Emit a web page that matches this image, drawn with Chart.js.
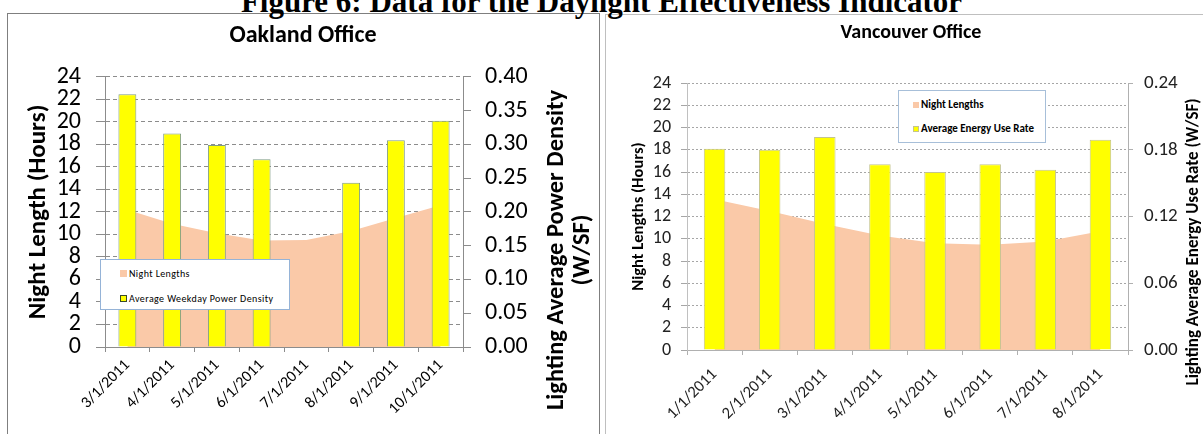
<!DOCTYPE html>
<html>
<head>
<meta charset="utf-8">
<script src="https://cdn.jsdelivr.net/npm/chart.js@4.4.1/dist/chart.umd.min.js"></script>
<style>
  html, body { margin: 0; padding: 0; background: #fff; }
  body { width: 1203px; height: 434px; position: relative; overflow: hidden; font-family: Carlito, Lato, sans-serif; }
  .fig-title { position: absolute; left: 0; top: -14px; width: 1203px; text-align: center; font: bold 31px/31px "Liberation Serif", "Times New Roman", serif; color: #000; white-space: nowrap; }
  .panel { position: absolute; }
  #oakPanel { left: 7px; top: 13px; width: 591px; height: 440px; border: 1px solid #7f7f7f; }
  #vanPanel { left: 605px; top: 14px; width: 620px; height: 440px; border: 1px solid #bfbfbf; }
  canvas { position: absolute; }
  #oakChart { left: 8px; top: 13px; }
  #vanChart { left: 607px; top: 15px; }
  .legend { position: absolute; background: #fff; box-sizing: border-box; }
  .legend .item { display: flex; align-items: center; white-space: nowrap; color: #000; }
  .legend .swatch { display: inline-block; box-sizing: border-box; margin-right: 2px; }
  #oakLegend { left: 100px; top: 259px; width: 190px; height: 51px; border: 1px solid #95b3d7; padding: 1px 0 0 19px; font-size: 10px; letter-spacing: 0.4px; }
  #oakLegend .item { height: 25px; }
  #oakLegend .swatch { width: 7px; height: 7px; }
  #vanLegend { left: 898px; top: 90px; width: 148px; height: 53px; border: 1px solid #a7bfd9; padding: 2px 0 0 14px; font-size: 11px; font-weight: bold; }
  #vanLegend .item { height: 23.7px; }
  #vanLegend .swatch { width: 6px; height: 6px; }
</style>
</head>
<body>
<div class="panel" id="oakPanel"></div>
<div class="panel" id="vanPanel"></div>
<div class="fig-title">Figure 6: Data for the Daylight Effectiveness Indicator</div>
<canvas id="oakChart" width="590" height="421"></canvas>
<canvas id="vanChart" width="608" height="419"></canvas>
<div class="legend" id="oakLegend"></div>
<div class="legend" id="vanLegend"></div>
<script>
// Oakland Office
const oaklandLabels = ['3/1/2011', '4/1/2011', '5/1/2011', '6/1/2011', '7/1/2011', '8/1/2011', '9/1/2011', '10/1/2011'];
const oaklandNightHours = [12.2, 10.95, 10.1, 9.45, 9.5, 10.3, 11.45, 12.6];
const oaklandPowerDensity = [0.374, 0.316, 0.299, 0.278, null, 0.243, 0.306, 0.335];

// Vancouver Office
const vancouverLabels = ['1/1/2011', '2/1/2011', '3/1/2011', '4/1/2011', '5/1/2011', '6/1/2011', '7/1/2011', '8/1/2011'];
const vancouverNightHours = [13.55, 12.5, 11.32, 10.29, 9.6, 9.45, 9.76, 10.68];
const vancouverEnergyRate = [0.181, 0.180, 0.1915, 0.167, 0.160, 0.167, 0.162, 0.189];

const nightFill = 'rgb(250, 201, 168)';
const barYellow = '#ffff00';

Chart.defaults.font.family = 'Carlito, Lato, sans-serif';

// right hand axis titles read bottom to top, which the built in title can't do
const sideTitle = {
  id: 'sideTitle',
  afterDraw(chart, args, opts) {
    const ctx = chart.ctx;
    ctx.save();
    ctx.font = 'bold ' + opts.size + 'px ' + Chart.defaults.font.family;
    ctx.fillStyle = opts.color || '#000';
    ctx.textAlign = 'center';
    ctx.textBaseline = 'middle';
    opts.lines.forEach((line, i) => {
      ctx.save();
      ctx.translate(opts.x[i], opts.y);
      ctx.rotate(-Math.PI / 2);
      ctx.fillText(line, 0, 0);
      ctx.restore();
    });
    ctx.restore();
  }
};

const buildLegend = (chart, el) => {
  chart.data.datasets.forEach(ds => {
    const item = document.createElement('div');
    item.className = 'item';
    const sw = document.createElement('span');
    sw.className = 'swatch';
    sw.style.background = ds.backgroundColor;
    if (ds.type === 'bar') sw.style.border = '1px solid ' + ds.legendBorder;
    item.appendChild(sw);
    item.appendChild(document.createTextNode(ds.label));
    el.appendChild(item);
  });
};

const oakChart = new Chart(document.getElementById('oakChart'), {
  type: 'bar',
  data: {
    labels: oaklandLabels,
    datasets: [
      {
        type: 'line', label: 'Night Lengths', data: oaklandNightHours, yAxisID: 'hours',
        fill: 'origin', backgroundColor: nightFill, borderColor: 'rgba(0,0,0,0)', borderWidth: 0,
        pointRadius: 0, tension: 0, order: 2
      },
      {
        type: 'bar', label: 'Average Weekday Power Density', data: oaklandPowerDensity, yAxisID: 'power',
        backgroundColor: barYellow, borderColor: '#7f9c86', borderWidth: 1, legendBorder: '#3a4a2a',
        barPercentage: 0.4, categoryPercentage: 1, order: 1
      }
    ]
  },
  options: {
    responsive: false,
    animation: false,
    layout: { padding: 0 },
    plugins: {
      legend: { display: false },
      tooltip: { enabled: false },
      title: {
        display: true, text: 'Oakland Office', color: '#000',
        font: { size: 24, weight: 'bold' }, padding: { top: 9, bottom: 26 }
      },
      sideTitle: { lines: ['Lighting Average Power Density', '(W/SF)'], x: [549, 575], y: 237, size: 24.5 }
    },
    scales: {
      x: {
        grid: { drawOnChartArea: false, tickLength: 5, color: '#8c8c8c' },
        border: { color: '#8c8c8c' },
        ticks: { autoSkip: false, minRotation: 45, maxRotation: 45, color: '#000', font: { size: 16 }, padding: 4 },
        afterFit: s => { s.height = 87; }
      },
      hours: {
        position: 'left', min: 0, max: 24,
        ticks: { stepSize: 2, autoSkip: false, color: '#000', font: { size: 24 }, padding: 15 },
        grid: { color: '#8c8c8c', tickLength: 9 },
        border: { color: '#8c8c8c', dash: [4, 3] },
        title: {
          display: true, text: 'Night Length (Hours)', color: '#000',
          font: { size: 25, weight: 'bold' }, padding: { top: 16, bottom: 0 }
        },
        afterFit: s => { s.width = 97; }
      },
      power: {
        position: 'right', min: 0, max: 0.4,
        ticks: { stepSize: 0.05, autoSkip: false, color: '#000', font: { size: 24 }, padding: 14, callback: v => v.toFixed(2) },
        grid: { drawOnChartArea: false, tickLength: 8, color: '#8c8c8c' },
        border: { color: '#8c8c8c' },
        afterFit: s => { s.width = 135; }
      }
    }
  },
  plugins: [sideTitle]
});

const vanChart = new Chart(document.getElementById('vanChart'), {
  type: 'bar',
  data: {
    labels: vancouverLabels,
    datasets: [
      {
        type: 'line', label: 'Night Lengths', data: vancouverNightHours, yAxisID: 'hours',
        fill: 'origin', backgroundColor: nightFill, borderColor: 'rgba(0,0,0,0)', borderWidth: 0,
        pointRadius: 0, tension: 0, order: 2
      },
      {
        type: 'bar', label: 'Average Energy Use Rate', data: vancouverEnergyRate, yAxisID: 'rate',
        backgroundColor: barYellow, borderColor: '#c4c48e', borderWidth: 1, legendBorder: '#c4c48e',
        barPercentage: 0.39, categoryPercentage: 1, order: 1
      }
    ]
  },
  options: {
    responsive: false,
    animation: false,
    layout: { padding: 0 },
    plugins: {
      legend: { display: false },
      tooltip: { enabled: false },
      title: {
        display: true, text: 'Vancouver Office', color: '#000',
        font: { size: 20, weight: 'bold' }, padding: { top: 6, bottom: 38 }
      },
      sideTitle: { lines: ['Lighting Average Energy Use Rate (W/SF)'], x: [587], y: 227, size: 17 }
    },
    scales: {
      x: {
        grid: { drawOnChartArea: false, tickLength: 5, color: '#b0b0b0' },
        border: { color: '#b0b0b0' },
        ticks: { autoSkip: false, minRotation: 45, maxRotation: 45, color: '#222', font: { size: 16.5 }, padding: 10 },
        afterFit: s => { s.height = 84; }
      },
      hours: {
        position: 'left', min: 0, max: 24,
        ticks: { stepSize: 2, autoSkip: false, color: '#222', font: { size: 18 }, padding: 10 },
        grid: { color: '#a6a6a6', tickLength: 6 },
        border: { color: '#c0c0c0', dash: [2, 2] },
        title: {
          display: true, text: 'Night Lengths (Hours)', color: '#000',
          font: { size: 16.5, weight: 'bold' }, padding: { top: 22, bottom: 0 }
        },
        afterFit: s => { s.width = 80; }
      },
      rate: {
        position: 'right', min: 0, max: 0.24,
        ticks: { stepSize: 0.06, autoSkip: false, color: '#222', font: { size: 19 }, padding: 11, callback: v => v.toFixed(2) },
        grid: { drawOnChartArea: false, tickLength: 5, color: '#b0b0b0' },
        border: { color: '#b0b0b0' },
        afterFit: s => { s.width = 87; }
      }
    }
  },
  plugins: [sideTitle]
});

buildLegend(oakChart, document.getElementById('oakLegend'));
buildLegend(vanChart, document.getElementById('vanLegend'));
</script>
</body>
</html>
